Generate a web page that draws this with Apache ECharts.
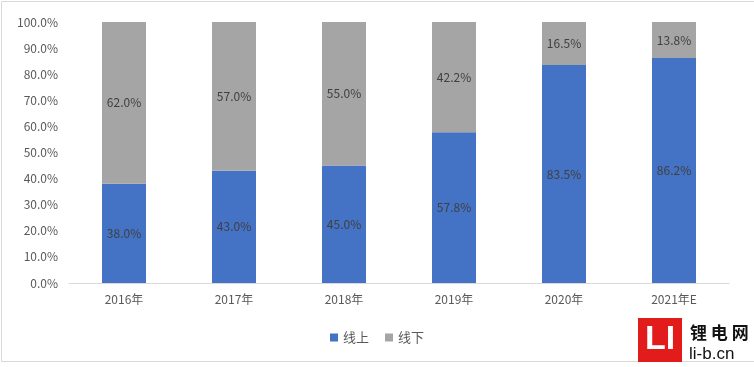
<!DOCTYPE html>
<html><head><meta charset="utf-8">
<script src="https://cdn.jsdelivr.net/npm/echarts@6/dist/echarts.min.js"></script>
<style>html,body{margin:0;padding:0;background:#fff}#c{width:754px;height:367px}</style>
</head><body><div id="c"></div>
<script>
const categories = ['2016年','2017年','2018年','2019年','2020年','2021年E'];
const online = [38.0, 43.0, 45.0, 57.8, 83.5, 86.2];
const offline = [62.0, 57.0, 55.0, 42.2, 16.5, 13.8];
const seriesNames = ['线上','线下'];
const chart = echarts.init(document.getElementById('c'));
const font = '"Noto Sans CJK SC", "Liberation Sans", sans-serif';
const lbl = {show:true, position:'inside', color:'#404040', fontSize:12, fontFamily:font, formatter: p => p.value.toFixed(1) + '%'};
chart.setOption({
  animation:false,
  textStyle:{fontFamily:font},
  grid:{left:69, right:25, top:22, bottom:84},
  legend:{bottom:18, left:'center', itemWidth:8, itemHeight:8, itemGap:16, icon:'rect',
    textStyle:{color:'#595959', fontSize:13, fontFamily:font}, data:seriesNames},
  xAxis:{type:'category', data:categories,
    axisLine:{lineStyle:{color:'#d9d9d9'}}, axisTick:{show:false},
    axisLabel:{color:'#595959', fontSize:12, margin:10, fontFamily:font}},
  yAxis:{type:'value', min:0, max:100, interval:10,
    axisLine:{show:false}, axisTick:{show:false}, splitLine:{show:false},
    axisLabel:{color:'#595959', fontSize:12, margin:11, fontFamily:font, formatter: v => v.toFixed(1) + '%'}},
  series:[
    {name:seriesNames[0], type:'bar', stack:'a', data:online, barWidth:44, itemStyle:{color:'#4472C4'}, label:lbl},
    {name:seriesNames[1], type:'bar', stack:'a', data:offline, barWidth:44, itemStyle:{color:'#A5A5A5'}, label:lbl}
  ],
  graphic:[
    {type:'rect', shape:{x:1.5, y:1.5, width:760, height:360}, style:{fill:'none', stroke:'#d9d9d9', lineWidth:1}},
    {type:'rect', shape:{x:638, y:318, width:44, height:44}, style:{fill:'#e21b1b'}},
    {type:'text', x:660, y:340, style:{text:'LI', fill:'#fff', font:'bold 34px "Liberation Sans", sans-serif', align:'center', verticalAlign:'middle'}},
    {type:'text', x:690, y:333, style:{text:'锂 电 网', fill:'#111', font:'bold 17px "Noto Sans CJK SC"', verticalAlign:'middle'}},
    {type:'text', x:689, y:354, style:{text:'li-b.cn', fill:'#111', font:'17px "Liberation Sans", sans-serif', verticalAlign:'middle'}}
  ]
});
</script></body></html>
